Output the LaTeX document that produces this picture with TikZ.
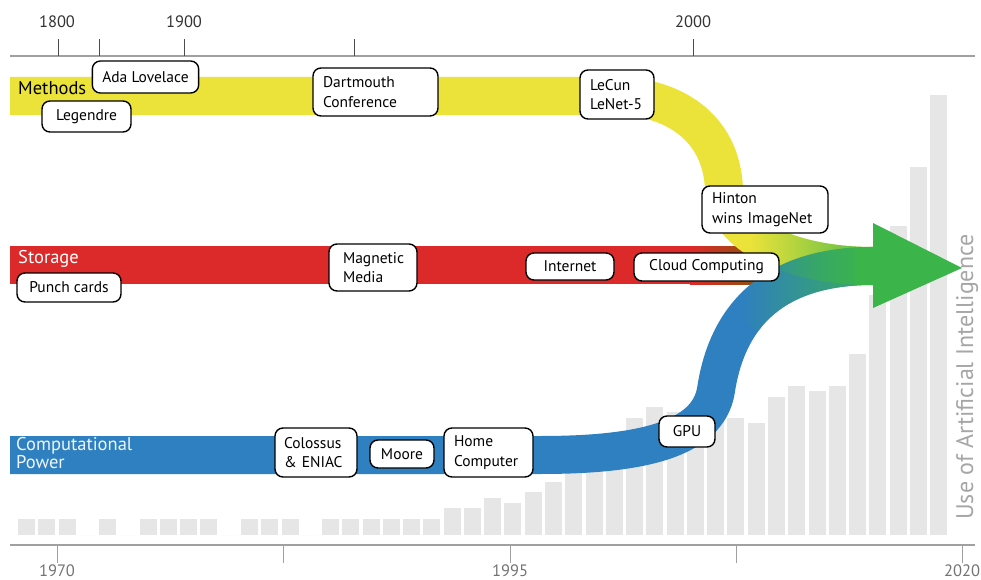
\documentclass[tikz,border=0pt]{standalone}
\usepackage{fontspec}
\setmainfont{PT Sans}
\usepackage{tikz}
\usetikzlibrary{positioning,fadings}

\definecolor{methodsyellow}{HTML}{ECE33A}
\definecolor{storagered}{HTML}{DC2A2A}
\definecolor{powerblue}{HTML}{2F80C0}
\definecolor{aigreen}{HTML}{3BB54A}
\definecolor{bargray}{HTML}{E6E6E6}
\definecolor{axisgray}{HTML}{A0A0A0}

% fade-in towards the arrow: transparent on the left, opaque from 75%
\pgfdeclarehorizontalshading{greenramp}{100bp}{color(0bp)=(black); color(30bp)=(black);
  color(75bp)=(white); color(100bp)=(white)}
\tikzfading[name=greenin, shading=greenramp]

\tikzset{
  evt/.style={draw=black, line width=1.4pt, rounded corners=8pt, fill=white,
    inner xsep=10pt, inner ysep=4pt, align=left,
    font=\fontsize{15.5}{19.5}\selectfont},
  lbl/.style={inner sep=0pt},
  band/.style={line width=38pt},
  bandname/.style={inner sep=0pt, anchor=west, font=\fontsize{18.5}{19}\selectfont},
  yearlbl/.style={inner sep=0pt, font=\fontsize{16.5}{18}\selectfont}
}

\begin{document}
\begin{tikzpicture}[x=1pt, y=-1pt]
\useasboundingbox (0,0) rectangle (981,580);

% bars in the background
\foreach \bartop [count=\i from 0] in {519,519,519,535,519,535,519,519,519,519,
    535,519,519,519,535,519,519,519,519,519,519,508,508,498,503,492,482,470,455,440,
    418,407,412,410,414,418,423,397,386,391,386,354,295,226,167,95}
  \fill[bargray] ({18+20.27*\i},535) rectangle ({35+20.27*\i},\bartop);

% time axes
\draw[axisgray, line width=2pt] (10,56) -- (975,56);
\foreach \x in {58,99,184,354,693}
  \draw[black!70, line width=1pt] (\x,56) -- (\x,39);
\node[yearlbl, text=black!80] (y1800) at (57,22) {1800};
\node[yearlbl, text=black!80] (y1900) at (184,22) {1900};
\node[yearlbl, text=black!80] (y2000) at (693,22) {2000};

\draw[axisgray, line width=2pt] (10,545) -- (975,545);
\foreach \x in {57,283,510,736,962}
  \draw[axisgray, line width=1pt] (\x,545) -- (\x,563);
\node[yearlbl, text=black!55] (y1970) at (57,571) {1970};
\node[yearlbl, text=black!55] (y1995) at (510,571) {1995};
\node[yearlbl, text=black!55] (y2020) at (962,571) {2020};

\coordinate (merge) at (873,266);

% storage
\fill[storagered] (10,246) rectangle (690,284);
\shade[left color=storagered, middle color=orange!80!red, right color=olive!80!black]
  (690,246) rectangle (790,284);

% methods
\draw[methodsyellow, band] (10,96) -- (615,96)
  .. controls (670,96) and (722,125) .. (724,190)
  .. controls (726,235) and (790,266) .. (merge);

% computational power
\draw[powerblue, band] (10,455) -- (540,455)
  .. controls (640,455) and (708,440) .. (716,390)
  .. controls (725,330) and (760,266) .. (merge);

% turning green
\draw[aigreen, band, path fading=greenin] (753.4,236.2)
  .. controls (780.2,254.8) and (823.2,266) .. (merge);
\draw[aigreen, band, path fading=greenin] (742.6,320.4)
  .. controls (765.5,289) and (805.2,266) .. (merge);
\fill[aigreen] (855,247) rectangle (874,285);
\fill[aigreen] (873,223) -- (962,268) -- (873,308) -- cycle;

% band names
\node[bandname] (methods) at (18,88) {Methods};
\node[bandname, text=white] (storage) at (18,259) {Storage};
\node[bandname, align=left, text=white!92!powerblue,
  font=\fontsize{18.5}{15.5}\selectfont] (power) at (16,453) {Computational\\Power};

% events
\node[evt, minimum width=101pt, minimum height=32pt, align=center] (ada) at (145.5,77) {Ada Lovelace};
\node[evt, minimum width=89pt, minimum height=31pt, align=center] (legendre) at (86.5,116.5) {Legendre};
\node[evt, text width=105pt, minimum height=48pt] (dartmouth) at (375.5,92) {Dartmouth\\Conference};
\node[evt, text width=54pt, minimum height=49pt] (lecun) at (617,94.5) {LeCun\\LeNet-5};
\node[evt, text width=106pt, minimum height=47pt] (hinton) at (765,209.5) {Hinton\\wins ImageNet};
\node[evt, minimum width=104pt, minimum height=29pt, align=center] (punch) at (69,287.5) {Punch cards};
\node[evt, inner xsep=14pt, text width=60pt, minimum height=47pt] (magnetic) at (373,267.5) {Magnetic\\Media};
\node[evt, minimum width=88pt, minimum height=27pt, align=center] (internet) at (570,266.5) {Internet};
\node[evt, minimum width=145pt, minimum height=28pt, align=center] (cloud) at (706.5,267) {Cloud Computing};
\node[evt, inner xsep=9pt, text width=64pt, minimum height=49pt] (colossus) at (316,452.5) {Colossus\\\& ENIAC};
\node[evt, minimum width=64pt, minimum height=28pt, align=center] (moore) at (402,454) {Moore};
\node[evt, text width=69pt, minimum height=49pt] (homecomp) at (488.5,452.5) {Home\\Computer};
\node[evt, minimum width=56pt, minimum height=31pt, align=center] (gpu) at (687,431.5) {GPU};

\node[lbl, rotate=90, text=black!35, font=\fontsize{24}{26}\selectfont] (usage) at (967,377)
  {Use of Artificial Intelligence};
\end{tikzpicture}
\end{document}
